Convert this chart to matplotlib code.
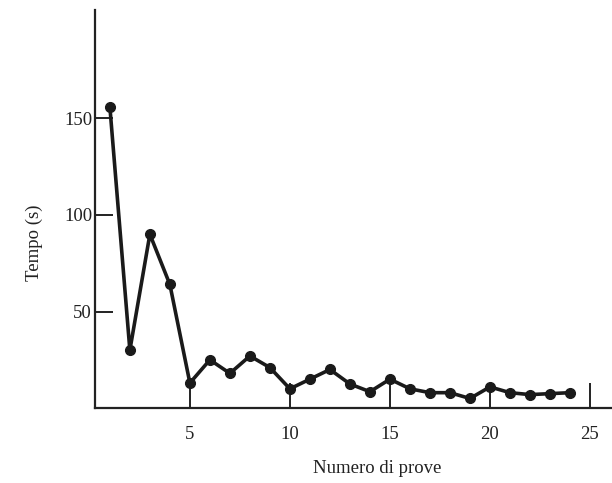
import matplotlib.pyplot as plt

trials = list(range(1, 25))
times = [156, 30, 90, 64, 13, 25, 18, 27, 21, 10, 15, 20,
         12.5, 8.5, 15, 10, 8, 8, 5, 11, 8, 7, 7.5, 8]
xticks = [5, 10, 15, 20, 25]
yticks = [50, 100, 150]

plt.rcParams['font.family'] = ['Liberation Serif', 'DejaVu Serif']

fig = plt.figure(figsize=(6.12, 4.83), dpi=100)
ax = fig.add_axes([0.155, 0.155, 0.845, 0.824])

ax.plot(trials, times, color="#1a1a1a", lw=2.6, marker="o", ms=7,
        markerfacecolor="#1a1a1a", markeredgecolor="#1a1a1a")

ax.set_xlim(0.25, 26.1)
ax.set_ylim(0, 206)
ax.set_xticks(xticks)
ax.set_yticks(yticks)
ax.spines["top"].set_visible(False)
ax.spines["right"].set_visible(False)
for s in ("left", "bottom"):
    ax.spines[s].set_linewidth(1.6)
    ax.spines[s].set_color("#222222")

ax.tick_params(axis="x", direction="in", length=18, width=1.4, pad=13,
               labelsize=13.5, colors="#222222")
ax.tick_params(axis="y", direction="in", length=13, width=1.4, pad=2,
               labelsize=13.5, colors="#222222")

ax.set_xlabel("Numero di prove", fontsize=13.5, color="#222222")
ax.set_ylabel("Tempo (s)", fontsize=13.5, color="#222222")
ax.xaxis.set_label_coords(0.545, -0.13)
ax.yaxis.set_label_coords(-0.1, 0.415)

fig.savefig("out.png", dpi=100)
